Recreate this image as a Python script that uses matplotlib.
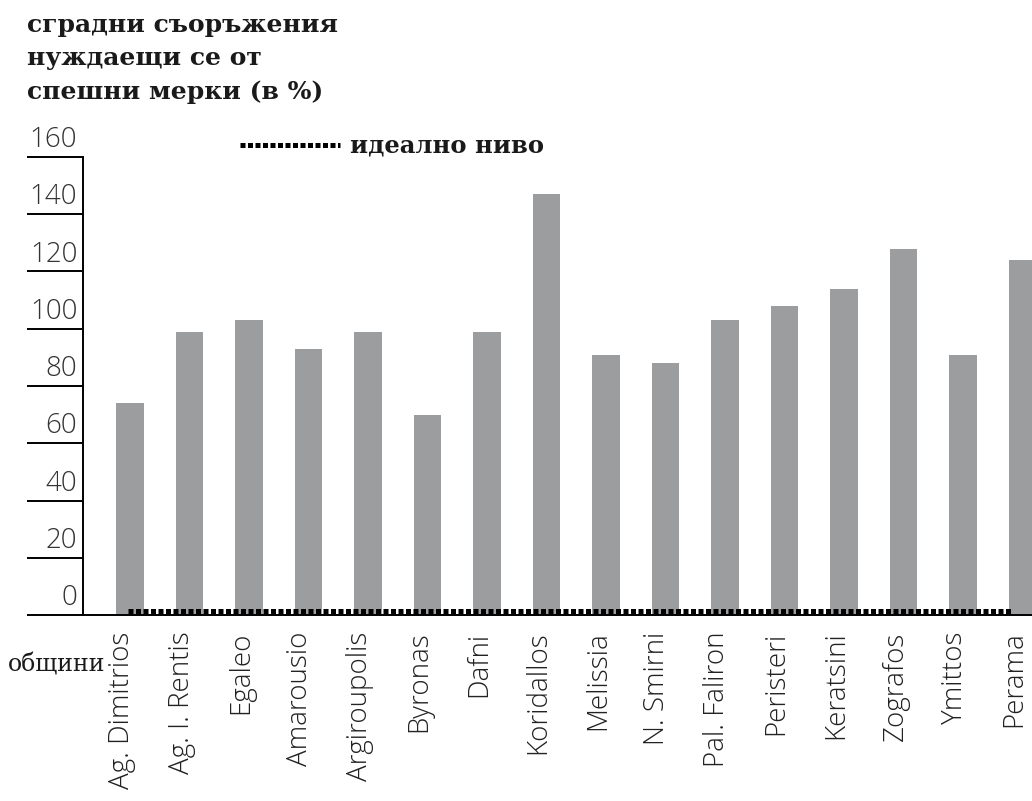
import matplotlib
matplotlib.use("Agg")
import matplotlib.pyplot as plt
import matplotlib.transforms as mtransforms
from matplotlib.lines import Line2D

# --- data ---
municipalities = ["Ag. Dimitrios", "Ag. I. Rentis", "Egaleo", "Amarousio", "Argiroupolis",
                  "Byronas", "Dafni", "Koridallos", "Melissia", "N. Smirni", "Pal. Faliron",
                  "Peristeri", "Keratsini", "Zografos", "Ymittos", "Perama"]
urgent_pct = [74, 99, 103, 93, 99, 70, 99, 147, 91, 88, 103, 108, 114, 128, 91, 124]
ideal_level = 0
y_ticks = [0, 20, 40, 60, 80, 100, 120, 140, 160]

title_txt = "сградни съоръжения\nнуждаещи се от\nспешни мерки (в %)"
legend_txt = "идеално ниво"
xlab_txt = "общини"

bar_color = "#9c9d9f"
serif = "DejaVu Serif"
sans = ["Open Sans", "DejaVu Sans"]

fig = plt.figure(figsize=(10.32, 8.01), dpi=100)
ax = fig.add_axes([83 / 1032, 1 - 615 / 801, 1 - 83 / 1032, (615 - 157) / 801])

x = list(range(len(municipalities)))
ax.bar(x, urgent_pct, width=0.46, color=bar_color, zorder=2)

# ideal level: dotted line of square dots sitting on the baseline
dots = dict(color="black", linewidth=3.6, linestyle=(0, (1, 0.5)),
            solid_capstyle="butt", dash_capstyle="butt")
off = mtransforms.offset_copy(ax.transData, fig=fig, y=2.6, units="points")
ax.plot([-0.04, len(x) - 1.2], [ideal_level, ideal_level], transform=off, zorder=3, **dots)

ax.set_xlim(-0.79, 15.16)
ax.set_ylim(0, 160)

for s in ["top", "right"]:
    ax.spines[s].set_visible(False)
ax.spines["left"].set_linewidth(1.4)
ax.spines["bottom"].set_linewidth(1.4)

# long tick lines to the left with the number sitting on top
ax.set_yticks(y_ticks)
ax.set_yticklabels([])
ax.tick_params(axis="y", direction="out", length=40, width=1.4, color="black")
trans = mtransforms.blended_transform_factory(ax.transAxes, ax.transData)
for v in y_ticks:
    ax.text(-0.006, v + 1.0, str(v), transform=trans, ha="right", va="bottom",
            fontsize=20, family=sans, fontweight="light", color="#333333")

ax.set_xticks(x)
ax.set_xticklabels(municipalities, rotation=90, fontsize=20, family=sans,
                   fontweight="light", color="#222222")
ax.tick_params(axis="x", length=0, pad=12)
shift = mtransforms.ScaledTranslation(-8 / 100, 0, fig.dpi_scale_trans)
for lbl in ax.get_xticklabels():
    lbl.set_transform(lbl.get_transform() + shift)

fig.text(27 / 1032, 1 - 13 / 801, title_txt, ha="left", va="top", fontsize=18,
         family=serif, fontweight="bold", linespacing=1.5, color="#1a1a1a")

fig.text(8 / 1032, 1 - 665 / 801, xlab_txt, ha="left", va="center", fontsize=17,
         family=serif, color="#1a1a1a")

# legend for the ideal level
fig.add_artist(Line2D([240 / 1032, 340 / 1032], [1 - 145 / 801, 1 - 145 / 801],
                      transform=fig.transFigure, **dots))
fig.text(350 / 1032, 1 - 145 / 801, legend_txt, ha="left", va="center", fontsize=17.5,
         family=serif, fontweight="bold", color="#1a1a1a")

fig.savefig("out.png", dpi=100)
